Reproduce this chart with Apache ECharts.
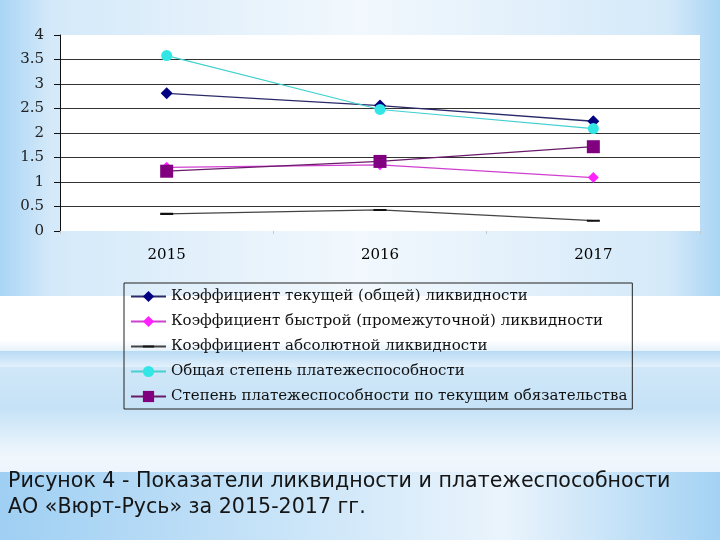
<!DOCTYPE html>
<html>
<head>
<meta charset="utf-8">
<script src="https://cdn.jsdelivr.net/npm/echarts@6/dist/echarts.min.js"></script>
<style>html,body{margin:0;padding:0;}#c{width:720px;height:540px;}</style>
</head>
<body>
<div id="c"></div>
<script>
const categories = ['2015', '2016', '2017'];
const yTicks = [0, 0.5, 1, 1.5, 2, 2.5, 3, 3.5, 4];
const currentLiq = [2.81, 2.56, 2.24];
const quickLiq = [1.30, 1.35, 1.09];
const absoluteLiq = [0.35, 0.43, 0.21];
const generalSolv = [3.58, 2.48, 2.09];
const currentObligSolv = [1.22, 1.42, 1.72];
const seriesNames = [
  'Коэффициент текущей (общей) ликвидности',
  'Коэффициент быстрой (промежуточной) ликвидности',
  'Коэффициент абсолютной ликвидности',
  'Общая степень платежеспособности',
  'Степень платежеспособности по текущим обязательства'
];
const captionLines = [
  'Рисунок 4 - Показатели ликвидности и платежеспособности',
  'АО «Вюрт-Русь» за 2015-2017 гг.'
];

const chart = echarts.init(document.getElementById('c'));
const hGrad = (edge, mid) => new echarts.graphic.LinearGradient(0, 0, 1, 0, [
  {offset: 0, color: edge}, {offset: 0.07, color: mid},
  {offset: 0.5, color: '#f2f8fd'}, {offset: 0.93, color: mid}, {offset: 1, color: edge}
]);
const serif = 'DejaVu Serif';
const dashIcon = 'path://M0,0h0.01v0.01h-0.01z M0,42h100v16h-100z M99.99,99.99h0.01v0.01h-0.01z';
const option = {
  backgroundColor: '#dcedfa',
  graphic: [
    {type: 'rect', z: -10, shape: {x: 0, y: 0, width: 720, height: 540}, style: {fill: hGrad('#a9d5f5', '#d4e9f9')}},
    {type: 'rect', z: -9, shape: {x: 0, y: 296, width: 720, height: 55},
      style: {fill: new echarts.graphic.LinearGradient(0, 0, 0, 1, [
        {offset: 0, color: '#ffffff'}, {offset: 0.8, color: '#ffffff'}, {offset: 1, color: '#e6f2fb'}])}},
    {type: 'rect', z: -9, shape: {x: 0, y: 351, width: 720, height: 16},
      style: {fill: new echarts.graphic.LinearGradient(0, 0, 0, 1, [
        {offset: 0, color: '#b8dbf5'}, {offset: 1, color: '#e2f0fb'}])}},
    {type: 'rect', z: -9, shape: {x: 0, y: 367, width: 720, height: 105},
      style: {fill: new echarts.graphic.LinearGradient(0, 0, 0, 1, [
        {offset: 0, color: '#d0e7f8'}, {offset: 0.4, color: '#c6e2f7'}, {offset: 0.85, color: '#f0f7fd'}, {offset: 1, color: '#eef6fd'}])}},
    {type: 'rect', z: -9, shape: {x: 0, y: 472, width: 720, height: 68},
      style: {fill: new echarts.graphic.LinearGradient(0, 0, 1, 0, [
        {offset: 0, color: '#9fcff3'}, {offset: 0.45, color: '#cfe7f9'}, {offset: 0.7, color: '#eaf4fc'}, {offset: 1, color: '#a4d2f4'}])}},
    {type: 'text', left: 8, top: 471, style: {text: captionLines[0], font: '20.6px "DejaVu Sans"', fill: '#151515'}},
    {type: 'text', left: 8, top: 497, style: {text: captionLines[1], font: '20.6px "DejaVu Sans"', fill: '#151515'}}
  ],
  grid: {left: 60, right: 20, top: 35, bottom: 309, show: true, backgroundColor: '#ffffff', borderWidth: 0},
  legend: {
    orient: 'vertical', left: 124, top: 283,
    padding: [6, 5, 5, 6], itemGap: 10, itemWidth: 35, itemHeight: 14,
    borderColor: '#222', borderWidth: 1,
    textStyle: {fontFamily: serif, fontSize: 15, color: '#111'},
    data: seriesNames
  },
  xAxis: {
    type: 'category', data: categories,
    axisLine: {show: false},
    axisTick: {show: true, length: 3, lineStyle: {color: '#c8c8c8'}},
    axisLabel: {margin: 17, fontFamily: serif, fontSize: 15, color: '#000'}
  },
  yAxis: {
    type: 'value', min: 0, max: 4, interval: 0.5,
    axisLine: {show: true, lineStyle: {color: '#111', width: 1}},
    axisTick: {show: true, length: 6, lineStyle: {color: '#111'}},
    axisLabel: {margin: 16, fontFamily: serif, fontSize: 15, color: '#222',
      formatter: v => yTicks.includes(v) ? String(v) : ''},
    splitLine: {show: true, showMinLine: false, showMaxLine: false, lineStyle: {color: '#333', width: 1.2}}
  },
  series: [
    {name: seriesNames[0], type: 'line', data: currentLiq, symbol: 'diamond', symbolSize: 12,
      itemStyle: {color: '#000080'}, lineStyle: {color: '#2a2a6a', width: 1.3}},
    {name: seriesNames[1], type: 'line', data: quickLiq, symbol: 'diamond', symbolSize: 11,
      itemStyle: {color: '#ff22ff'}, lineStyle: {color: '#d040d0', width: 1.3}},
    {name: seriesNames[2], type: 'line', data: absoluteLiq, symbol: dashIcon, symbolSize: 13,
      itemStyle: {color: '#111'}, lineStyle: {color: '#444', width: 1.3}},
    {name: seriesNames[3], type: 'line', data: generalSolv, symbol: 'circle', symbolSize: 11,
      itemStyle: {color: '#33e6e6'}, lineStyle: {color: '#44d0d0', width: 1.2}},
    {name: seriesNames[4], type: 'line', data: currentObligSolv, symbol: 'rect', symbolSize: 13,
      itemStyle: {color: '#800080'}, lineStyle: {color: '#6a1a6a', width: 1.3}}
  ]
};
chart.setOption(option);
</script>
</body>
</html>
